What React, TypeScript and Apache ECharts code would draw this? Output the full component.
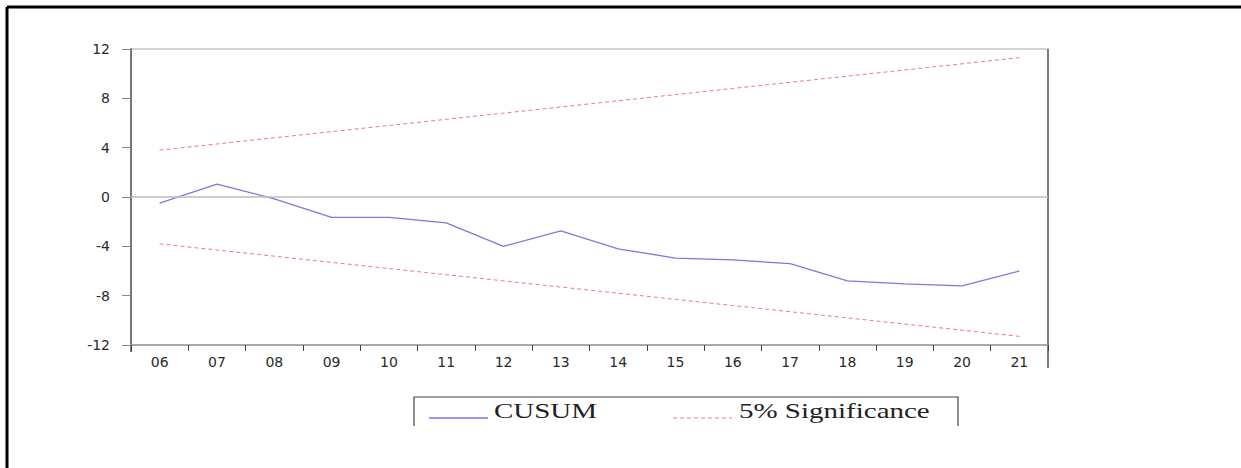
import React, { useEffect, useRef } from "react";
import * as echarts from "echarts";

const years = ["06", "07", "08", "09", "10", "11", "12", "13", "14", "15", "16", "17", "18", "19", "20", "21"];
const cusum = [-0.5, 1.05, -0.15, -1.65, -1.65, -2.1, -4.0, -2.75, -4.2, -4.95, -5.1, -5.4, -6.8, -7.05, -7.2, -6.0];
const upper5 = [3.8, 4.3, 4.8, 5.3, 5.8, 6.3, 6.8, 7.3, 7.8, 8.3, 8.8, 9.3, 9.8, 10.3, 10.8, 11.3];
const lower5 = [-3.8, -4.3, -4.8, -5.3, -5.8, -6.3, -6.8, -7.3, -7.8, -8.3, -8.8, -9.3, -9.8, -10.3, -10.8, -11.3];
const yTicks = { min: -12, max: 12, interval: 4 };
const legendNames = ["CUSUM", "5% Significance"];

const BLUE = "#7a7ada";
const RED = "#f07a7a";

export default function App() {
  const ref = useRef<HTMLDivElement>(null);
  useEffect(() => {
    if (!ref.current) return;
    const chart = echarts.init(ref.current, null, { renderer: "svg" });
    const serif = "'Liberation Serif', 'Times New Roman', serif";
    const sans = "'DejaVu Sans', Arial, sans-serif";
    chart.setOption({
      animation: false,
      backgroundColor: "#ffffff",
      grid: {
        left: 131,
        right: 193,
        top: 49,
        bottom: 123,
        show: true,
        borderColor: "#c4c4c4",
        borderWidth: 1.5,
      },
      xAxis: {
        type: "category",
        data: years,
        boundaryGap: true,
        axisLine: { onZero: false, lineStyle: { color: "#9a9a9a", width: 1.5 } },
        axisTick: { show: true, length: 6, lineStyle: { color: "#444" } },
        axisLabel: {
          color: "#2a2a2a",
          fontSize: 14,
          fontFamily: sans,
          margin: 10,
        },
        splitLine: { show: false },
      },
      yAxis: {
        type: "value",
        min: yTicks.min,
        max: yTicks.max,
        interval: yTicks.interval,
        axisLine: { show: true, lineStyle: { color: "#777", width: 2 } },
        axisTick: { show: true, length: 9, lineStyle: { color: "#888" } },
        axisLabel: {
          color: "#2a2a2a",
          fontSize: 14,
          fontFamily: sans,
          margin: 21,
        },
        splitLine: { show: false },
      },
      series: [
        {
          name: legendNames[0],
          type: "line",
          data: cusum,
          symbol: "none",
          z: 3,
          lineStyle: { color: BLUE, width: 1.3 },
          markLine: {
            silent: true,
            symbol: "none",
            label: { show: false },
            lineStyle: { color: "#bdbdbd", type: "solid", width: 1.5 },
            data: [{ yAxis: 0 }],
          },
        },
        {
          name: legendNames[1],
          type: "line",
          data: upper5,
          symbol: "none",
          lineStyle: { color: RED, width: 1, type: [4, 3] },
        },
        {
          name: legendNames[1] + " lower",
          type: "line",
          data: lower5,
          symbol: "none",
          lineStyle: { color: RED, width: 1, type: [4, 3] },
        },
      ],
      graphic: [
        { type: "line", shape: { x1: 7, y1: 7, x2: 1241, y2: 7 }, style: { stroke: "#000", lineWidth: 3 } },
        { type: "line", shape: { x1: 7, y1: 7, x2: 7, y2: 468 }, style: { stroke: "#000", lineWidth: 3 } },
        { type: "line", shape: { x1: 1048, y1: 49, x2: 1048, y2: 368 }, style: { stroke: "#7a7a7a", lineWidth: 2 } },
        { type: "line", shape: { x1: 131, y1: 345, x2: 131, y2: 352 }, style: { stroke: "#777", lineWidth: 2 } },
        {
          type: "polyline",
          shape: { points: [[414, 426], [414, 397], [958, 397], [958, 426]] },
          style: { stroke: "#444", lineWidth: 1.2, fill: null },
        },
        { type: "line", shape: { x1: 429, y1: 418, x2: 488, y2: 418 }, style: { stroke: BLUE, lineWidth: 1.3 } },
        {
          type: "text",
          x: 494,
          y: 411,
          scaleX: 1.45,
          style: { text: legendNames[0], font: `20px ${serif}`, fill: "#222", textVerticalAlign: "middle" },
        },
        {
          type: "line",
          shape: { x1: 673, y1: 418, x2: 732, y2: 418 },
          style: { stroke: RED, lineWidth: 1, lineDash: [4, 3] },
        },
        {
          type: "text",
          x: 739,
          y: 411,
          scaleX: 1.45,
          style: { text: legendNames[1], font: `20px ${serif}`, fill: "#222", textVerticalAlign: "middle" },
        },
      ],
    });
    return () => chart.dispose();
  }, []);
  return (
    <div
      ref={ref}
      style={{ position: "absolute", left: 0, top: 0, width: 1241, height: 468, background: "#fff" }}
    />
  );
}
